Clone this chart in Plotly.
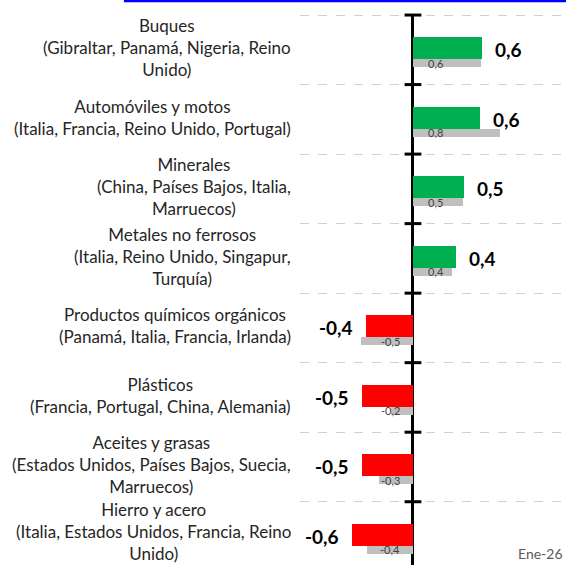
import plotly.graph_objects as go

# ---- data ----
products = ["Buques", "Automóviles y motos", "Minerales", "Metales no ferrosos",
            "Productos químicos orgánicos", "Plásticos", "Aceites y grasas", "Hierro y acero"]
countries = ["(Gibraltar, Panamá, Nigeria, Reino<br>Unido)",
             "(Italia, Francia, Reino Unido, Portugal)",
             "(China, Países Bajos, Italia,<br>Marruecos)",
             "(Italia, Reino Unido, Singapur,<br>Turquía)",
             "(Panamá, Italia, Francia, Irlanda)",
             "(Francia, Portugal, China, Alemania)",
             "(Estados Unidos, Países Bajos, Suecia,<br>Marruecos)",
             "(Italia, Estados Unidos, Francia, Reino<br>Unido)"]
current = [0.64, 0.62, 0.47, 0.40, -0.435, -0.47, -0.47, -0.56]
previous = [0.63, 0.81, 0.46, 0.36, -0.48, -0.20, -0.31, -0.43]
period_label = "Ene-26"

GREEN = "#00B050"
RED = "#FF0000"
GRAY = "#BFBFBF"
FONT = "Lato, Carlito, Calibri, sans-serif"

idx = list(range(len(products)))
fmt = lambda v: f"{v:.1f}".replace(".", ",")

fig = go.Figure()
fig.add_trace(go.Bar(
    x=previous, y=idx, orientation="h", marker=dict(color=GRAY, line=dict(width=0)),
    width=0.115, offset=0.133, hoverinfo="skip", showlegend=False))
fig.add_trace(go.Bar(
    x=current, y=idx, orientation="h",
    marker=dict(color=[GREEN if v > 0 else RED for v in current], line=dict(width=0)),
    width=0.316, offset=-0.183, hoverinfo="skip", showlegend=False))

# cross tick marks on the zero axis at category boundaries
bounds = [i - 0.5 for i in range(len(products) + 1)]
fig.add_trace(go.Scatter(
    x=[0] * len(bounds), y=bounds, mode="markers",
    marker=dict(symbol="line-ew", size=12, line=dict(width=3, color="black")),
    cliponaxis=False, hoverinfo="skip", showlegend=False))

annotations = []
last = len(products) - 1
for i, (p, c, v, pv) in enumerate(zip(products, countries, current, previous)):
    annotations.append(dict(
        x=-0.03, xref="paper", y=i, yref="y", text=f"{p}<br>{c}", showarrow=False,
        xanchor="right", yanchor="middle", align="center",
        yshift=5 if i == last else 2, borderpad=0,
        font=dict(family=FONT, size=17, color="#262626")))
    annotations.append(dict(
        x=v, y=i, xref="x", yref="y", text=f"<b>{fmt(v)}</b>", showarrow=False,
        xanchor="left" if v > 0 else "right", xshift=11 if v > 0 else -11,
        yanchor="middle",
        font=dict(family=FONT, size=19, color="black")))
    annotations.append(dict(
        x=0, y=i + 0.19, xref="x", yref="y", text=fmt(pv), showarrow=False,
        xanchor="left" if pv > 0 else "right", xshift=13 if pv > 0 else -11,
        yanchor="middle",
        font=dict(family=FONT, size=11, color="#404040")))

annotations.append(dict(
    x=0.995, y=0.0, xref="paper", yref="paper", text=period_label, showarrow=False,
    xanchor="right", yanchor="bottom", yshift=1,
    font=dict(family=FONT, size=14, color="#595959")))

fig.update_layout(
    width=566, height=565,
    margin=dict(l=300, r=0, t=14, b=0),
    paper_bgcolor="white", plot_bgcolor="white",
    barmode="overlay", bargap=0,
    annotations=annotations,
    shapes=[dict(type="line", xref="paper", yref="paper", x0=-0.662, x1=1.0,
                 y0=1.0236, y1=1.0236, line=dict(color="#0000FF", width=2.5))],
)
fig.update_xaxes(range=[-1.046, 1.417], showgrid=False, showticklabels=False,
                 zeroline=True, zerolinecolor="black", zerolinewidth=3, showline=False)
fig.update_yaxes(range=[7.41, -0.515], tickmode="array", tickvals=bounds,
                 showticklabels=False,
                 showgrid=True, gridcolor="#D0D0D0", gridwidth=1, griddash="dash",
                 zeroline=False, showline=False, ticks="")

fig.write_html("out.html", config={"displayModeBar": False},
               post_script="document.body.style.margin='0';document.body.style.overflow='hidden';")
